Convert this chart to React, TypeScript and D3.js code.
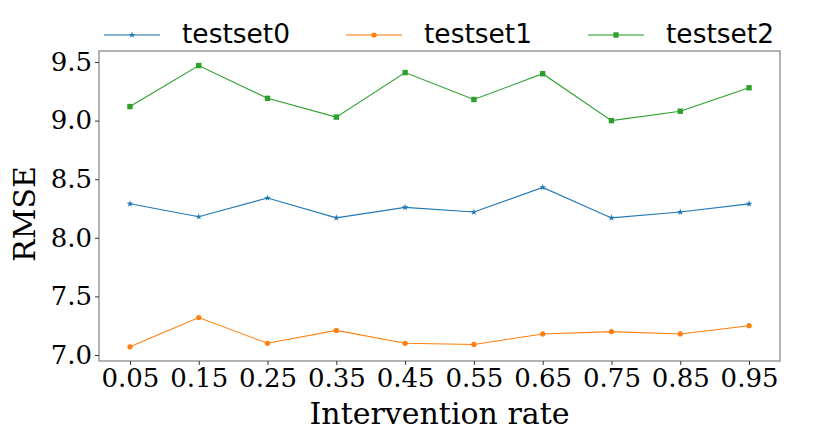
import { useEffect, useRef } from 'react';
import * as d3 from 'd3';

const rates = [0.05, 0.15, 0.25, 0.35, 0.45, 0.55, 0.65, 0.75, 0.85, 0.95];
const testset0 = [8.29, 8.18, 8.34, 8.17, 8.26, 8.22, 8.43, 8.17, 8.22, 8.29];
const testset1 = [7.07, 7.32, 7.1, 7.21, 7.1, 7.09, 7.18, 7.2, 7.18, 7.25];
const testset2 = [9.12, 9.47, 9.19, 9.03, 9.41, 9.18, 9.4, 9.0, 9.08, 9.28];
const seriesNames = ['testset0', 'testset1', 'testset2'];
const yTicks = [7.0, 7.5, 8.0, 8.5, 9.0, 9.5];

const colors = ['#1f77b4', '#ff7f0e', '#2ca02c'];
const markers = ['star', 'circle', 'square'];

const App = () => {
  const ref = useRef<SVGSVGElement>(null!);

  useEffect(() => {
    const width = 830;
    const height = 430;
    const m = { left: 99, right: 50, top: 51, bottom: 69 };
    const svg = d3.select(ref.current);
    svg.selectAll('*').remove();
    svg.attr('width', width).attr('height', height);

    const x = d3.scaleLinear().domain([0.005, 0.995]).range([m.left, width - m.right]);
    const y = d3.scaleLinear().domain([6.949, 9.594]).range([height - m.bottom, m.top]);

    const all = [testset0, testset1, testset2];

    const drawMarker = (g: any, kind: string, cx: number, cy: number, color: string) => {
      if (kind === 'circle') {
        g.append('circle').attr('cx', cx).attr('cy', cy).attr('r', 2.6).attr('fill', color);
      } else if (kind === 'square') {
        g.append('rect').attr('x', cx - 2.7).attr('y', cy - 2.7).attr('width', 5.4).attr('height', 5.4).attr('fill', color);
      } else {
        g.append('path')
          .attr('d', d3.symbol(d3.symbolStar, 14)())
          .attr('transform', `translate(${cx},${cy})`)
          .attr('fill', color);
      }
    };

    // series
    all.forEach((vals, i) => {
      const line = d3
        .line<number>()
        .x((_, j) => x(rates[j]))
        .y(d => y(d));
      svg
        .append('path')
        .datum(vals)
        .attr('d', line)
        .attr('fill', 'none')
        .attr('stroke', colors[i])
        .attr('stroke-width', 1.1);
      const g = svg.append('g');
      vals.forEach((v, j) => drawMarker(g, markers[i], x(rates[j]), y(v), colors[i]));
    });

    // frame
    svg
      .append('rect')
      .attr('x', m.left)
      .attr('y', m.top)
      .attr('width', width - m.left - m.right)
      .attr('height', height - m.top - m.bottom)
      .attr('fill', 'none')
      .attr('stroke', '#808080')
      .attr('stroke-width', 1.2);

    // x axis
    const xAxis = d3
      .axisBottom(x)
      .tickValues(rates)
      .tickSize(4)
      .tickPadding(4)
      .tickFormat(d => d3.format('.2f')(d as number));
    const gx = svg
      .append('g')
      .attr('transform', `translate(0,${height - m.bottom})`)
      .call(xAxis);
    gx.select('.domain').remove();
    gx.selectAll('line').attr('stroke', '#333');
    gx.selectAll('text')
      .attr('font-family', 'DejaVu Serif')
      .attr('font-size', 26)
      .attr('fill', '#000');

    // y axis
    const yAxis = d3
      .axisLeft(y)
      .tickValues(yTicks)
      .tickSize(4)
      .tickPadding(3)
      .tickFormat(d => d3.format('.1f')(d as number));
    const gy = svg.append('g').attr('transform', `translate(${m.left},0)`).call(yAxis);
    gy.select('.domain').remove();
    gy.selectAll('line').attr('stroke', '#333');
    gy.selectAll('text')
      .attr('font-family', 'DejaVu Serif')
      .attr('font-size', 26)
      .attr('fill', '#000');

    // axis titles
    svg
      .append('text')
      .attr('x', (m.left + width - m.right) / 2)
      .attr('y', 424)
      .attr('text-anchor', 'middle')
      .attr('font-family', 'DejaVu Serif')
      .attr('font-size', 30)
      .text('Intervention rate');
    svg
      .append('text')
      .attr('transform', `translate(35,${(m.top + height - m.bottom) / 2 + 8}) rotate(-90)`)
      .attr('text-anchor', 'middle')
      .attr('font-family', 'DejaVu Serif')
      .attr('font-size', 30)
      .text('RMSE');

    // legend
    const legendX = [104, 346, 588];
    seriesNames.forEach((name, i) => {
      const lx = legendX[i];
      const g = svg.append('g');
      g.append('line')
        .attr('x1', lx)
        .attr('x2', lx + 56)
        .attr('y1', 35)
        .attr('y2', 35)
        .attr('stroke', colors[i])
        .attr('stroke-opacity', 0.55)
        .attr('stroke-width', 2);
      drawMarker(g, markers[i], lx + 28, 35, colors[i]);
      g.append('text')
        .attr('x', lx + 78)
        .attr('y', 43)
        .attr('font-family', 'DejaVu Sans')
        .attr('font-size', 26)
        .attr('textLength', 108)
        .attr('lengthAdjust', 'spacingAndGlyphs')
        .text(name);
    });
  }, []);

  return <svg ref={ref} style={{ position: 'absolute', left: 0, top: 0 }}></svg>;
};

export default App;
